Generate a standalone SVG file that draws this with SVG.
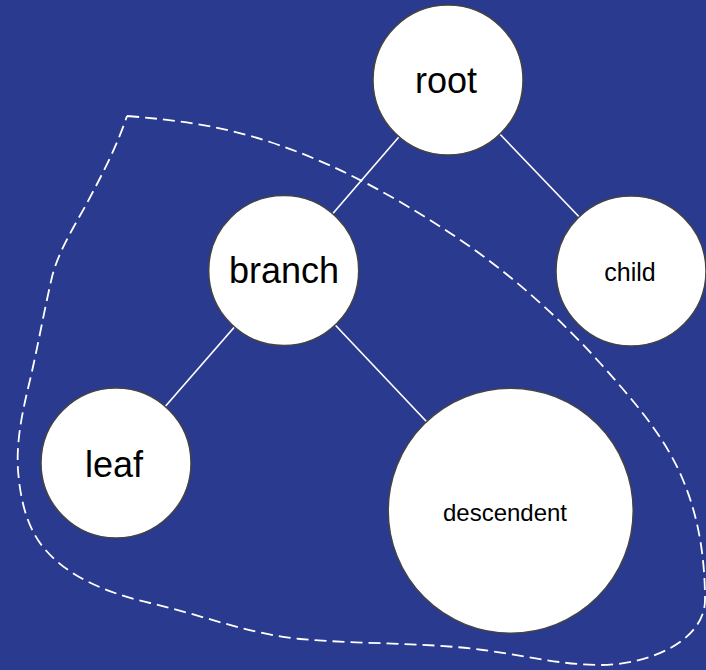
<svg xmlns="http://www.w3.org/2000/svg" width="706" height="670" viewBox="0 0 706 670">
  <style>
    .node circle { fill: #ffffff; stroke: #444444; stroke-width: 1.5; }
    .node text { font-family: "Liberation Sans", Arial, sans-serif; fill: #000000; text-anchor: middle; }
    .big { font-size: 36px; }
    .small { font-size: 25px; }
    .edge { stroke: #ffffff; stroke-width: 1.6; fill: none; }
    .region { stroke: #ffffff; stroke-width: 1.8; fill: none; stroke-dasharray: 12 6; }
  </style>
  <rect x="0" y="0" width="706" height="670" fill="#2a3a8e"/>
  <g id="region">
    <path class="region" d="M127,116 C177,120 222,126 270,142 C334,163 394,196 450,233 C505,269 556,314 600,363 C632,399 665,436 683,480 C699,518 705,559 705,600 C705,640 650,665 600,665 C561,665 522,655 483,650 C423,642 361,644.5 300,639 C249,634 200,614.5 150,603 C111,594 68,578 43,547 C26,526 20,497 18,470 C16,440 23,409 30,380 C38,346 44,311 52,277 C58.5,251 74,227 87,203 C102,175 117,146 127,116"/>
  </g>
  <g id="connectors">
    <line class="edge" x1="448" y1="80" x2="283.7" y2="270.5"/>
    <line class="edge" x1="448" y1="80" x2="631" y2="271"/>
    <line class="edge" x1="283.7" y1="270.5" x2="116" y2="463"/>
    <line class="edge" x1="283.7" y1="270.5" x2="510.7" y2="510.7"/>
  </g>
  <g id="root" class="node">
    <circle cx="448" cy="80" r="75"/>
    <text class="big" x="446" y="93">root</text>
  </g>
  <g id="branch" class="node">
    <circle cx="283.7" cy="270.5" r="75"/>
    <text class="big" x="284" y="282.7">branch</text>
  </g>
  <g id="child" class="node">
    <circle cx="631" cy="271" r="75"/>
    <text class="small" x="630" y="280.7">child</text>
  </g>
  <g id="leaf" class="node">
    <circle cx="116" cy="463" r="75"/>
    <text class="big" x="114" y="476.5">leaf</text>
  </g>
  <g id="descendent" class="node">
    <circle cx="510.7" cy="510.7" r="122.5"/>
    <text x="505" y="520.7" style="font-size:24px">descendent</text>
  </g>
</svg>
